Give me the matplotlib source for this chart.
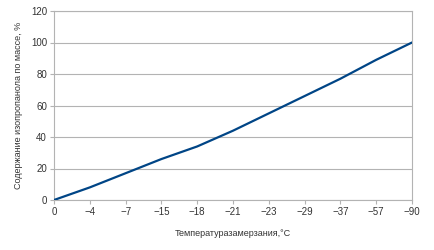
import matplotlib
matplotlib.use("Agg")
import matplotlib.pyplot as plt

categories = ["0", "\u22124", "\u22127", "\u221215", "\u221218", "\u221221", "\u221223", "\u221229", "\u221237", "\u221257", "\u221290"]
values = [0, 8, 17, 26, 34, 44, 55, 66, 77, 89, 100]
yticks = [0, 20, 40, 60, 80, 100, 120]

plt.rcParams['font.family'] = ['Liberation Sans', 'DejaVu Sans']

fig = plt.figure(figsize=(4.34, 2.5), dpi=100)
ax = fig.add_axes([54/434, 50/250, (412-54)/434, (200-11)/250])

x = list(range(len(categories)))
ax.plot(x, values, color='#004586', linewidth=1.6, solid_capstyle='round', zorder=3)

ax.set_xlim(0, len(categories) - 1)
ax.set_ylim(0, 120)
ax.set_xticks(x)
ax.set_xticklabels(categories)
ax.set_yticks(yticks)

ax.grid(axis='y', color='#b3b3b3', linewidth=0.8)
ax.set_axisbelow(True)
for s in ax.spines.values():
    s.set_color('#b3b3b3')
    s.set_linewidth(0.8)

ax.tick_params(axis='both', colors='#b3b3b3', labelcolor='#333333', labelsize=7, length=3, width=0.8, pad=2)

ax.set_xlabel("Температуразамерзания,°C", fontsize=6.5, color='#333333', labelpad=9)
ax.set_ylabel("Содержание изопропанола по массе, %", fontsize=6.5, color='#333333', labelpad=6)

fig.savefig("out.png", dpi=100)
